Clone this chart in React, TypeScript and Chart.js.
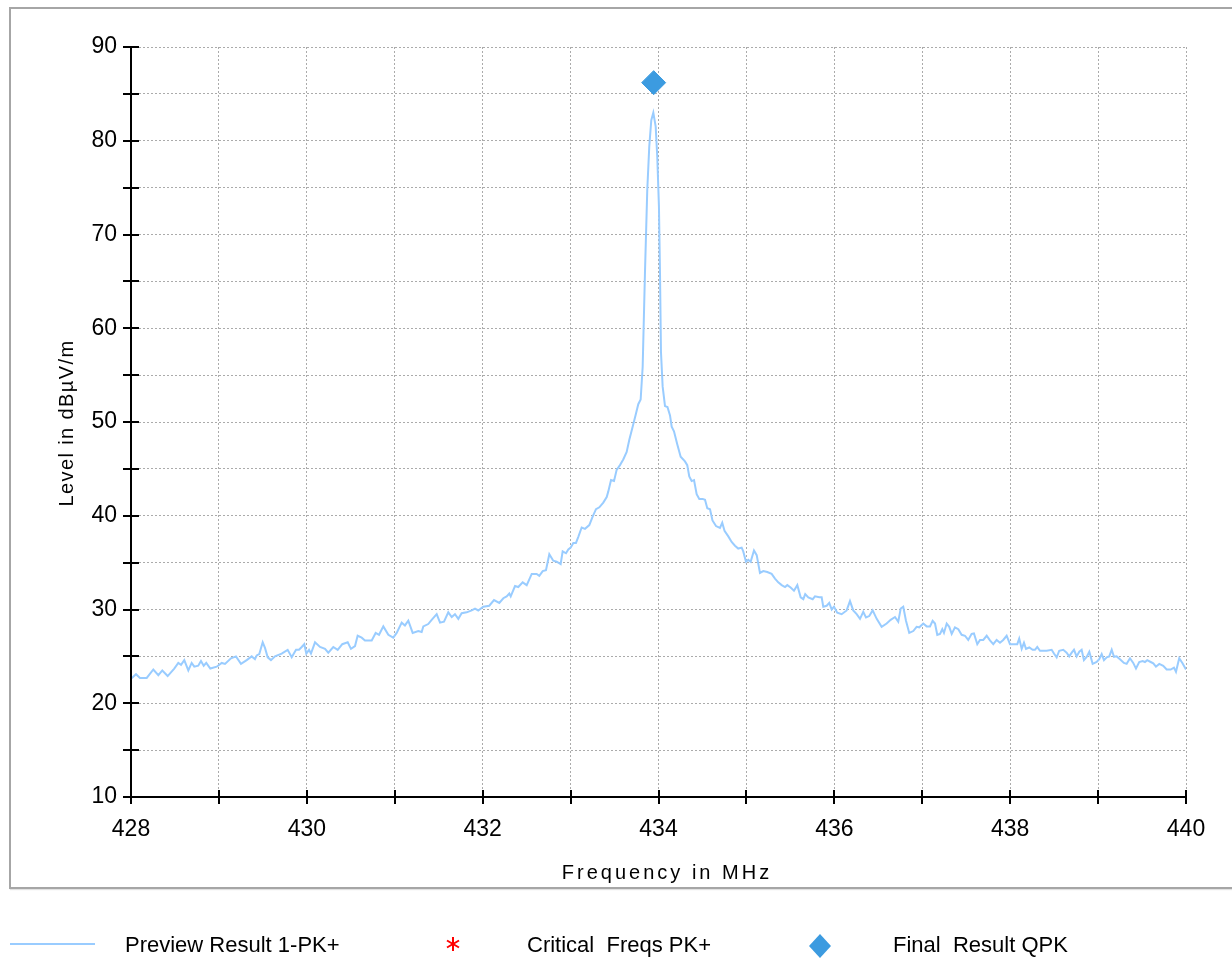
import React, { useEffect, useRef } from "react";
import { Chart, registerables } from "chart.js";

Chart.register(...registerables);

// ---- Data ----
const FREQ_MHZ: number[] = [
  428.000, 428.057, 428.102, 428.179, 428.254, 428.311, 428.356, 428.417, 428.492, 428.538,
  428.569, 428.606, 428.652, 428.690, 428.720, 428.765, 428.796, 428.827, 428.856, 428.902,
  428.975, 429.032, 429.069, 429.137, 429.194, 429.251, 429.316, 429.373, 429.410, 429.430,
  429.459, 429.498, 429.524, 429.555, 429.592, 429.638, 429.714, 429.782, 429.828, 429.877,
  429.911, 429.942, 429.971, 429.994, 430.025, 430.047, 430.093, 430.150, 430.207, 430.244,
  430.301, 430.351, 430.403, 430.465, 430.502, 430.548, 430.578, 430.624, 430.661, 430.738,
  430.783, 430.821, 430.870, 430.927, 430.983, 431.022, 431.079, 431.116, 431.154, 431.204,
  431.268, 431.306, 431.325, 431.381, 431.420, 431.477, 431.515, 431.560, 431.609, 431.648,
  431.685, 431.723, 431.761, 431.818, 431.875, 431.913, 431.950, 432.007, 432.075, 432.129,
  432.189, 432.235, 432.273, 432.303, 432.319, 432.368, 432.405, 432.455, 432.501, 432.558,
  432.614, 432.644, 432.683, 432.720, 432.758, 432.803, 432.842, 432.887, 432.910, 432.948,
  432.974, 433.001, 433.031, 433.061, 433.088, 433.126, 433.164, 433.213, 433.251, 433.289,
  433.327, 433.372, 433.411, 433.429, 433.460, 433.494, 433.524, 433.562, 433.599, 433.638,
  433.668, 433.706, 433.744, 433.770, 433.797, 433.820, 433.846, 433.872, 433.895, 433.918,
  433.941, 433.968, 433.986, 434.005, 434.017, 434.028, 434.047, 434.074, 434.102, 434.131,
  434.150, 434.176, 434.214, 434.252, 434.301, 434.327, 434.350, 434.377, 434.404, 434.434,
  434.464, 434.502, 434.529, 434.555, 434.586, 434.614, 434.654, 434.699, 434.725, 434.751,
  434.794, 434.832, 434.870, 434.907, 434.946, 434.964, 434.995, 435.021, 435.048, 435.086,
  435.117, 435.154, 435.192, 435.237, 435.287, 435.325, 435.362, 435.401, 435.439, 435.465,
  435.503, 435.541, 435.579, 435.617, 435.647, 435.669, 435.704, 435.754, 435.780, 435.829,
  435.856, 435.874, 435.913, 435.942, 435.970, 435.996, 436.033, 436.083, 436.140, 436.178,
  436.215, 436.254, 436.292, 436.329, 436.360, 436.397, 436.436, 436.482, 436.538, 436.595,
  436.641, 436.690, 436.727, 436.755, 436.784, 436.815, 436.852, 436.898, 436.936, 436.966,
  437.012, 437.050, 437.088, 437.118, 437.145, 437.171, 437.202, 437.228, 437.247, 437.278,
  437.307, 437.335, 437.372, 437.410, 437.448, 437.486, 437.523, 437.562, 437.588, 437.626,
  437.657, 437.694, 437.733, 437.770, 437.808, 437.846, 437.884, 437.921, 437.960, 437.998,
  438.055, 438.081, 438.103, 438.131, 438.157, 438.180, 438.217, 438.256, 438.282, 438.308,
  438.339, 438.415, 438.472, 438.498, 438.529, 438.558, 438.604, 438.642, 438.672, 438.700,
  438.726, 438.756, 438.786, 438.813, 438.839, 438.870, 438.900, 438.938, 438.984, 439.013,
  439.041, 439.067, 439.098, 439.127, 439.155, 439.181, 439.211, 439.249, 439.294, 439.325,
  439.363, 439.400, 439.431, 439.468, 439.507, 439.533, 439.559, 439.598, 439.628, 439.658,
  439.696, 439.741, 439.780, 439.826, 439.863, 439.886, 439.923, 439.962, 440.000,
];

const LEVEL_PK: number[] = [
  22.6, 23.1, 22.7, 22.7, 23.6, 23.0, 23.5, 22.9, 23.7, 24.3,
  24.1, 24.6, 23.5, 24.3, 23.9, 24.0, 24.5, 24.0, 24.3, 23.7,
  23.9, 24.3, 24.2, 24.8, 25.0, 24.2, 24.6, 25.0, 24.7, 25.1,
  25.25, 26.5, 25.9, 24.9, 24.6, 25.0, 25.3, 25.7, 24.9, 25.7,
  25.7, 26.0, 26.3, 25.3, 25.7, 25.3, 26.5, 26.0, 25.8, 25.4,
  26.0, 25.7, 26.3, 26.5, 25.8, 26.1, 27.2, 27.0, 26.7, 26.7,
  27.5, 27.3, 28.2, 27.3, 27.0, 27.5, 28.6, 28.3, 28.8, 27.5,
  27.7, 27.6, 28.2, 28.45, 28.9, 29.5, 28.6, 28.7, 29.7, 29.2,
  29.5, 29.0, 29.6, 29.7, 29.9, 30.1, 29.9, 30.3, 30.4, 31.0,
  30.7, 31.2, 31.4, 31.7, 31.4, 32.5, 32.4, 32.9, 32.6, 33.8,
  33.8, 33.6, 34.1, 34.2, 35.9, 35.2, 35.1, 34.85, 36.2, 36.0,
  36.4, 36.6, 37.1, 37.1, 37.75, 38.75, 38.6, 39.0, 39.9, 40.7,
  40.9, 41.4, 42.0, 42.6, 43.8, 43.7, 44.9, 45.4, 46.0, 46.8,
  48.1, 49.5, 50.9, 51.9, 52.4, 55.9, 65.9, 74.7, 79.4, 82.2,
  83.0, 81.5, 78.3, 73.0, 65.9, 57.5, 53.8, 51.7, 51.6, 50.7,
  49.5, 49.0, 47.6, 46.3, 45.8, 45.4, 44.2, 43.7, 43.8, 42.3,
  41.8, 41.8, 41.7, 40.8, 40.7, 39.5, 38.9, 38.7, 39.25, 38.4,
  37.8, 37.2, 36.8, 36.5, 36.6, 36.2, 35.1, 35.3, 35.1, 36.3,
  35.8, 33.9, 34.1, 34.0, 33.8, 33.3, 32.9, 32.6, 32.4, 32.6,
  32.35, 32.0, 32.6, 31.3, 31.1, 31.65, 31.3, 31.1, 31.4, 31.3,
  31.3, 30.3, 30.4, 30.7, 30.0, 30.3, 29.65, 29.5, 29.9, 30.9,
  29.9, 29.5, 29.0, 29.75, 29.15, 29.3, 29.9, 29.0, 28.15, 28.5,
  28.9, 29.2, 28.7, 30.1, 30.3, 28.8, 27.5, 27.7, 28.15, 28.1,
  28.5, 28.2, 28.2, 28.8, 28.5, 27.3, 27.4, 27.9, 27.5, 28.5,
  28.15, 27.4, 28.1, 27.9, 27.3, 27.2, 26.75, 27.4, 27.45, 26.3,
  26.75, 26.75, 27.2, 26.7, 26.3, 26.75, 26.45, 26.75, 27.2, 26.3,
  26.3, 26.3, 26.9, 25.8, 26.45, 25.8, 25.95, 25.7, 25.7, 26.0,
  25.6, 25.6, 25.7, 25.3, 24.9, 25.6, 25.7, 25.4, 25.0, 25.4,
  25.7, 25.0, 25.5, 25.7, 24.6, 24.95, 25.5, 24.2, 24.4, 24.7,
  25.25, 24.6, 24.9, 25.0, 25.7, 24.95, 25.0, 24.7, 24.3, 24.2,
  24.8, 24.3, 23.7, 24.4, 24.5, 24.4, 24.6, 24.4, 24.25, 23.9,
  24.2, 24.0, 23.6, 23.6, 23.8, 23.35, 24.8, 24.25, 23.6,
];

const CRITICAL_FREQ: number[] = [];
const CRITICAL_LEVEL: number[] = [];

const QPK_FREQ: number[] = [433.945];
const QPK_LEVEL: number[] = [86.2];

const X_TICK_LABELS: string[] = ["428", "430", "432", "434", "436", "438", "440"];
const Y_TICK_LABELS: string[] = ["10", "20", "30", "40", "50", "60", "70", "80", "90"];

const SERIES_NAMES: string[] = ["Preview Result 1-PK+", "Critical  Freqs PK+", "Final  Result QPK"];

const FONT = '"Liberation Sans", Arial, Helvetica, sans-serif';
const LINE_COLOR = "#99ccff";
const QPK_COLOR = "#3c9be0";
const CRIT_COLOR = "#ff0000";
const GRID_COLOR = "#ababab";

const crossTicks = {
  id: "crossTicks",
  afterDraw(chart: any) {
    const { ctx, chartArea, scales } = chart;
    const xs = scales.x;
    const ys = scales.y;
    ctx.save();
    ctx.strokeStyle = "#000";
    ctx.lineWidth = 2;
    ctx.setLineDash([]);
    ctx.beginPath();
    xs.ticks.forEach((t: any) => {
      const px = Math.round(xs.getPixelForValue(t.value));
      ctx.moveTo(px, chartArea.bottom - 7);
      ctx.lineTo(px, chartArea.bottom + 7);
    });
    ys.ticks.forEach((t: any) => {
      const py = Math.round(ys.getPixelForValue(t.value));
      ctx.moveTo(chartArea.left - 8, py);
      ctx.lineTo(chartArea.left + 8, py);
    });
    ctx.stroke();
    // solid axis lines on left and bottom
    ctx.beginPath();
    ctx.moveTo(chartArea.left, chartArea.top);
    ctx.lineTo(chartArea.left, chartArea.bottom);
    ctx.lineTo(chartArea.right, chartArea.bottom);
    ctx.stroke();
    ctx.restore();
  },
};

function ChartCanvas() {
  const ref = useRef<HTMLCanvasElement | null>(null);
  useEffect(() => {
    if (!ref.current) return;
    const chart = new Chart(ref.current, {
      type: "line",
      data: {
        datasets: [
          {
            label: SERIES_NAMES[0],
            data: FREQ_MHZ.map((f, i) => ({ x: f, y: LEVEL_PK[i] })),
            borderColor: LINE_COLOR,
            backgroundColor: LINE_COLOR,
            borderWidth: 2,
            pointRadius: 0,
            tension: 0,
            fill: false,
          },
          {
            label: SERIES_NAMES[1],
            data: CRITICAL_FREQ.map((f, i) => ({ x: f, y: CRITICAL_LEVEL[i] })),
            showLine: false,
            pointStyle: "star",
            pointRadius: 7,
            borderColor: CRIT_COLOR,
            backgroundColor: CRIT_COLOR,
          },
          {
            label: SERIES_NAMES[2],
            data: QPK_FREQ.map((f, i) => ({ x: f, y: QPK_LEVEL[i] })),
            showLine: false,
            pointStyle: "rectRot",
            pointRadius: 12,
            borderWidth: 1,
            borderColor: QPK_COLOR,
            backgroundColor: QPK_COLOR,
          },
        ],
      },
      options: {
        animation: false,
        responsive: false,
        maintainAspectRatio: false,
        layout: { padding: { left: 0, top: 47, right: 46, bottom: 0 } },
        plugins: { legend: { display: false }, tooltip: { enabled: false } },
        scales: {
          x: {
            type: "linear",
            min: 428,
            max: 440,
            grid: { color: GRID_COLOR, lineWidth: 1, drawTicks: false },
            border: { display: false, dash: [2, 2] },
            ticks: {
              stepSize: 1,
              autoSkip: false,
              maxRotation: 0,
              padding: 19,
              color: "#000",
              font: { family: FONT, size: 23 },
              callback: (v: any) => (X_TICK_LABELS.includes(String(v)) ? String(v) : ""),
            },
            afterFit: (s: any) => {
              s.height = 163;
            },
          },
          y: {
            type: "linear",
            min: 10,
            max: 90,
            grid: { color: GRID_COLOR, lineWidth: 1, drawTicks: false },
            border: { display: false, dash: [2, 2] },
            ticks: {
              stepSize: 5,
              autoSkip: false,
              padding: 14,
              color: "#000",
              font: { family: FONT, size: 23 },
              callback: (v: any) => (Y_TICK_LABELS.includes(String(v)) ? String(v) : ""),
            },
            afterFit: (s: any) => {
              s.width = 131;
            },
          },
        },
      },
      plugins: [crossTicks],
    } as any);
    return () => chart.destroy();
  }, []);
  return <canvas ref={ref} width={1232} height={960} style={{ position: "absolute", left: 0, top: 0, width: 1232, height: 960 }} />;
}

export default function App() {
  const textStyle: React.CSSProperties = {
    position: "absolute",
    fontFamily: FONT,
    fontSize: 22,
    lineHeight: "22px",
    color: "#000",
    whiteSpace: "pre",
  };
  return (
    <div style={{ position: "absolute", left: 0, top: 0, width: 1232, height: 960, overflow: "hidden", background: "#fff" }}>
      <div
        style={{
          position: "absolute",
          left: 9,
          top: 7,
          width: 1260,
          height: 878,
          border: "2px solid #a6a6a6",
          boxShadow: "1px 1px 1px #e2e2e2",
        }}
      />
      <ChartCanvas />
      {/* axis titles */}
      <div
        style={{
          position: "absolute",
          left: 66 - 150,
          top: 423 - 12,
          width: 300,
          height: 24,
          lineHeight: "24px",
          textAlign: "center",
          transform: "rotate(-90deg)",
          fontFamily: FONT,
          fontSize: 20,
          letterSpacing: "1.4px",
          color: "#000",
        }}
      >
        Level in dBµV/m
      </div>
      <div
        style={{
          position: "absolute",
          left: 667 - 200,
          top: 860,
          width: 400,
          height: 24,
          lineHeight: "24px",
          textAlign: "center",
          fontFamily: FONT,
          fontSize: 20,
          letterSpacing: "3px",
          color: "#000",
        }}
      >
        Frequency in MHz
      </div>
      {/* legend */}
      <div style={{ position: "absolute", left: 10, top: 943, width: 85, height: 2, background: LINE_COLOR }} />
      <div style={{ ...textStyle, left: 125, top: 934 }}>{SERIES_NAMES[0]}</div>
      <svg style={{ position: "absolute", left: 446, top: 936 }} width={14} height={16} viewBox="0 0 14 16">
        <g stroke={CRIT_COLOR} strokeWidth={2}>
          <line x1={7} y1={1} x2={7} y2={15} />
          <line x1={1} y1={4.5} x2={13} y2={11.5} />
          <line x1={1} y1={11.5} x2={13} y2={4.5} />
        </g>
      </svg>
      <div style={{ ...textStyle, left: 527, top: 934 }}>{SERIES_NAMES[1]}</div>
      <svg style={{ position: "absolute", left: 809, top: 934 }} width={22} height={24} viewBox="0 0 22 24">
        <polygon points="11,0 22,12 11,24 0,12" fill={QPK_COLOR} />
      </svg>
      <div style={{ ...textStyle, left: 893, top: 934 }}>{SERIES_NAMES[2]}</div>
    </div>
  );
}
